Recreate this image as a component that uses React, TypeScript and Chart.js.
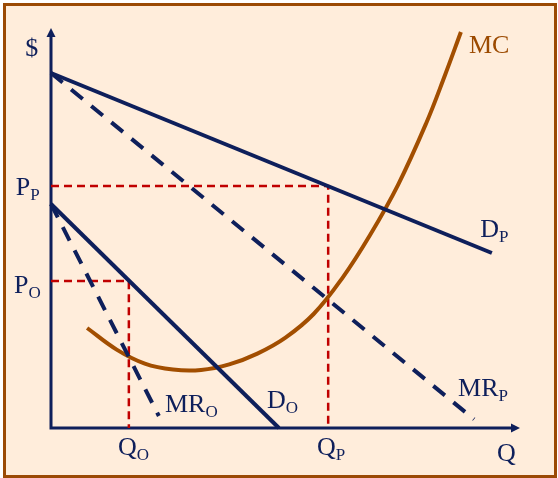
import React, { useEffect, useRef } from "react";
import { Chart, registerables } from "chart.js";

Chart.register(...registerables);

const NAVY = "#0E1F5B";
const BROWN = "#A24E00";
const RED = "#C00000";

// Demand / marginal revenue (Q, $)
const demandP = [{ x: 0, y: 88.75 }, { x: 94, y: 43.75 }];
const marginalRevenueP = [{ x: 0, y: 88.75 }, { x: 90.2, y: 2.2 }];
const demandO = [{ x: 0, y: 56 }, { x: 48.6, y: 0 }];
const marginalRevenueO = [{ x: 0, y: 56 }, { x: 23, y: 3 }];

// Marginal cost curve
const mcQ = [7.7, 14, 20, 26, 32, 38, 44, 50, 56, 62, 68, 74, 80, 84, 87.4];
const mcCost = [25, 19.6, 16.1, 14.6, 14.5, 15.9, 18.6, 22.6, 28.5, 37.3, 48.2, 60.8, 76.2, 88.2, 99];

// Equilibria
const QP = 59.1;
const PP = 60.5;
const QO = 16.6;
const PO = 36.75;

type Lbl = { text: string; sub?: string; x: number; y: number; color: string };
const LABELS: Lbl[] = [
  { text: "$", x: -5.5, y: 93, color: NAVY },
  { text: "P", sub: "P", x: -7.5, y: 58.25, color: NAVY },
  { text: "P", sub: "O", x: -7.9, y: 33.75, color: NAVY },
  { text: "Q", sub: "O", x: 14.3, y: -6.75, color: NAVY },
  { text: "Q", sub: "P", x: 56.7, y: -6.75, color: NAVY },
  { text: "Q", x: 95.1, y: -8.25, color: NAVY },
  { text: "MC", x: 89.1, y: 93.75, color: "#9C4A00" },
  { text: "D", sub: "P", x: 91.5, y: 47.75, color: NAVY },
  { text: "MR", sub: "P", x: 86.8, y: 8, color: NAVY },
  { text: "MR", sub: "O", x: 24.3, y: 4, color: NAVY },
  { text: "D", sub: "O", x: 46.05, y: 5, color: NAVY },
];

const FONT = '"Liberation Serif", "Times New Roman", serif';

const axesPlugin = {
  id: "axesArrows",
  beforeDatasetsDraw(chart: any) {
    const { ctx, scales } = chart;
    const x = scales.x, y = scales.y;
    const x0 = x.getPixelForValue(0), x1 = x.getPixelForValue(100);
    const y0 = y.getPixelForValue(0), y1 = y.getPixelForValue(100);
    ctx.save();
    ctx.strokeStyle = NAVY;
    ctx.fillStyle = NAVY;
    ctx.lineWidth = 3;
    ctx.beginPath();
    ctx.moveTo(x0, y0 + 1.5);
    ctx.lineTo(x0, y1 + 8);
    ctx.moveTo(x0 - 1.5, y0);
    ctx.lineTo(x1 - 8, y0);
    ctx.stroke();
    ctx.beginPath();
    ctx.moveTo(x0, y1);
    ctx.lineTo(x0 - 4.5, y1 + 9);
    ctx.lineTo(x0 + 4.5, y1 + 9);
    ctx.closePath();
    ctx.fill();
    ctx.beginPath();
    ctx.moveTo(x1, y0);
    ctx.lineTo(x1 - 9, y0 - 4.5);
    ctx.lineTo(x1 - 9, y0 + 4.5);
    ctx.closePath();
    ctx.fill();
    ctx.restore();
  },
};

const labelsPlugin = {
  id: "curveLabels",
  afterDatasetsDraw(chart: any) {
    const { ctx, scales } = chart;
    ctx.save();
    ctx.textAlign = "left";
    ctx.textBaseline = "alphabetic";
    for (const l of LABELS) {
      const px = scales.x.getPixelForValue(l.x);
      const py = scales.y.getPixelForValue(l.y);
      ctx.fillStyle = l.color;
      ctx.font = `26px ${FONT}`;
      ctx.fillText(l.text, px, py);
      if (l.sub) {
        const w = ctx.measureText(l.text).width;
        ctx.font = `17px ${FONT}`;
        ctx.fillText(l.sub, px + w, py + 5);
      }
    }
    ctx.restore();
  },
};

export default function App() {
  const ref = useRef<HTMLCanvasElement>(null);
  useEffect(() => {
    if (!ref.current) return;
    const base = {
      pointRadius: 0,
      pointHoverRadius: 0,
      fill: false,
      tension: 0,
      clip: false as any,
      borderCapStyle: "butt" as const,
    };
    const chart = new Chart(ref.current, {
      type: "line",
      data: {
        datasets: [
          { ...base, label: "D_P", data: demandP, borderColor: NAVY, borderWidth: 4, order: 1 },
          { ...base, label: "MR_P", data: marginalRevenueP, borderColor: NAVY, borderWidth: 4, borderDash: [15, 11], order: 2 },
          { ...base, label: "D_O", data: demandO, borderColor: NAVY, borderWidth: 4, order: 3 },
          { ...base, label: "MR_O", data: marginalRevenueO, borderColor: NAVY, borderWidth: 4, borderDash: [15, 11], order: 4 },
          {
            ...base,
            label: "MC",
            data: mcQ.map((q, i) => ({ x: q, y: mcCost[i] })),
            borderColor: BROWN,
            borderWidth: 4,
            tension: 0.4,
            order: 5,
          },
          {
            ...base,
            label: "P_P",
            data: [{ x: 0, y: PP }, { x: QP, y: PP }, { x: QP, y: 0 }],
            borderColor: RED,
            borderWidth: 2.5,
            borderDash: [8, 5],
            order: 6,
          },
          {
            ...base,
            label: "P_O",
            data: [{ x: 0, y: PO }, { x: QO, y: PO }, { x: QO, y: 0 }],
            borderColor: RED,
            borderWidth: 2.5,
            borderDash: [8, 5],
            order: 7,
          },
        ],
      },
      options: {
        animation: false,
        responsive: false,
        devicePixelRatio: 1,
        layout: { padding: { left: 51, right: 38, top: 28, bottom: 50 } },
        scales: {
          x: { type: "linear", min: 0, max: 100, display: false },
          y: { type: "linear", min: 0, max: 100, display: false },
        },
        plugins: { legend: { display: false }, tooltip: { enabled: false } },
        events: [],
      },
      plugins: [axesPlugin, labelsPlugin],
    });
    return () => chart.destroy();
  }, []);

  return (
    <div style={{ position: "absolute", left: 0, top: 0, width: 558, height: 478, background: "#ffffff" }}>
      <div
        style={{
          position: "absolute",
          left: 3,
          top: 3,
          width: 554,
          height: 475,
          boxSizing: "border-box",
          border: "3px solid #9B4A04",
          background: "#FFEDDB",
        }}
      />
      <canvas ref={ref} width={558} height={478} style={{ position: "absolute", left: 0, top: 0 }} />
    </div>
  );
}
